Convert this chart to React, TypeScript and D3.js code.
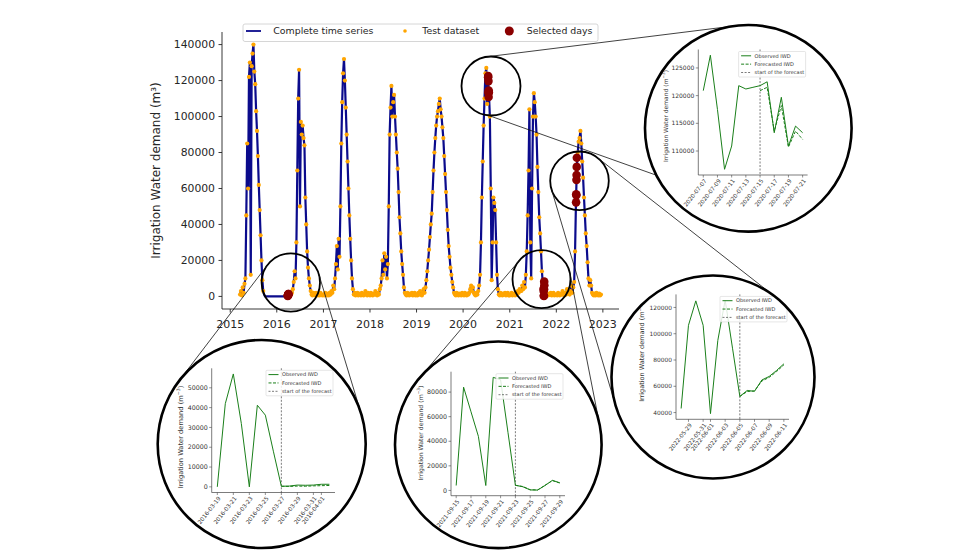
import React from "react";
import * as d3 from "d3";

const FONT = "'DejaVu Sans', Verdana, sans-serif";

// ---------- Main chart data: weekly irrigation water demand (thousand m³), index = week of year ----------
const iwd2015 = [null, null, null, null, null, null, null, null, null, null, null,
  1, 3, 0.5, 5, 2, 7, 10, 45, 85, 60,
  122, 130, 12, 128, 135, 140, 125, 118, 103, 92,
  78, 62, 48, 34, 20, 9, 3, 1, 0, 0,
  0, 0, 0, 0, 0, 0, 0, 0, 0, 0, 0];
const iwd2016 = [0, 0, 0, 0, 0, 0, 0, 0, 0, 0,
  0, 0, 0, 0, 0, 0.5, 1, 2, 4, 8,
  14, 10, 30, 70, 110, 126, 50, 97, 90, 95,
  88, 84, 55, 40, 25, 16, 10, 6, 3, 1,
  0.5, 2, 1, 0.5, 2, 1, 0.5, 1.5, 0.5, 2,
  1, 0.5];
const iwd2017 = [1, 0.5, 2, 1, 0.5, 1.5, 0.5, 2, 1, 3,
  2, 6, 4, 10, 18, 28, 15, 32, 22, 50,
  85, 108, 124, 132, 120, 105, 90, 75, 60, 45,
  32, 20, 10, 4, 1, 2, 0.5, 1, 2, 0.5,
  1.5, 1, 0.5, 2, 1, 0.5, 1.5, 3, 1, 0.5,
  2, 1];
const iwd2018 = [0.5, 2, 1, 0.5, 1.5, 1, 3, 1, 0.5, 2,
  1, 4, 6, 10, 20, 12, 24, 15, 22, 10,
  18, 50, 90, 105, 117, 100, 108, 112, 100, 90,
  80, 71, 58, 44, 35, 25, 18, 12, 5, 2,
  1, 0.5, 2, 1, 0.5, 1.5, 1, 2, 0.5, 1,
  2, 0.5];
const iwd2019 = [1, 0.5, 2, 1, 3, 1, 0.5, 2, 4, 2,
  5, 9, 14, 20, 26, 33, 40, 46, 58, 70,
  80, 88, 95, 100, 103, 107, 110, 104, 100, 94,
  88, 78, 68, 58, 48, 37, 28, 22, 16, 12,
  8, 5, 2, 1, 0.5, 2, 1, 0.5, 1.5, 1,
  0.5, 2];
const iwd2020 = [1, 0.5, 2, 1, 0.5, 1.5, 1, 2, 4, 6,
  3, 5, 2, 1, 0.5, 2, 1, 3, 6, 12,
  30, 55, 75, 95, 110, 124, 127, 107, 122, 112,
  100, 60, 9, 30, 55, 52, 48, 30, 12, 4,
  1, 0.5, 2, 1, 0.5, 1.5, 1, 2, 0.5, 1,
  2, 0.5];
const iwd2021 = [0.5, 1, 2, 0.5, 1, 1.5, 0.5, 2, 1, 3,
  2, 4, 3, 3, 6, 4, 8, 5, 12, 25,
  45, 70, 104, 30, 10, 60, 100, 113, 108, 100,
  90, 72, 58, 44, 35, 25, 14, 7, 3, 1,
  0.5, 2, 1, 0.5, 1.5, 1, 2, 0.5, 1, 2,
  0.5, 1];
const iwd2022 = [1, 0.5, 2, 1, 0.5, 1.5, 1, 3, 1, 0.5,
  2, 1, 4, 2, 3, 1, 3, 6, 2, 5,
  8, 25, 52, 72, 80, 86, 88, 92, 85, 75,
  66, 55, 45, 35, 28, 19, 10, 6, 9, 6,
  2, 1, 0.5, 1.5, 0.5, 2, 1, 0.5, 1.5, 0.5,
  1, null];
const seriesYears = [2015, 2016, 2017, 2018, 2019, 2020, 2021, 2022];
const weeklyIWD = [iwd2015, iwd2016, iwd2017, iwd2018, iwd2019, iwd2020, iwd2021, iwd2022];
const testGap = ["2015-09-20", "2016-04-10"]; // period not in the test dataset
const mainYTicks = [0, 20000, 40000, 60000, 80000, 100000, 120000, 140000];
const mainXTickYears = [2015, 2016, 2017, 2018, 2019, 2020, 2021, 2022, 2023];
const legendLabels = ["Complete time series", "Test dataset", "Selected days"];

// ---------- Inset data (daily, m³) ----------
const forecastOffset = 8; // forecast starts 8 days after the first day shown
const insetLegendLabels = ["Observed IWD", "Forecasted IWD", "start of the forecast"];

const insetAStart = "2020-07-07";
const insetAObserved = [120900, 127300, 117500, 106700, 110900, 121800, 121200, 121500, 121800, 122500, 113300, 119700, 110900, 114500, 113300];
const insetAForecast = [120900, 121500, 113600, 118200, 110700, 113600, 112100];
const insetAXTicks = ["2020-07-07", "2020-07-09", "2020-07-11", "2020-07-13", "2020-07-15", "2020-07-17", "2020-07-19", "2020-07-21"];
const insetAYTicks = [110000, 115000, 120000, 125000];

const insetBStart = "2022-05-28";
const insetBObserved = [43100, 106400, 125000, 106400, 39200, 94900, 125600, 89000, 52300, 56800, 56200, 64800, 67500, 72000, 77100];
const insetBForecast = [52300, 56000, 56500, 64000, 66800, 71200, 76300];
const insetBXTicks = ["2022-05-29", "2022-05-31", "2022-06-01", "2022-06-03", "2022-06-05", "2022-06-07", "2022-06-09", "2022-06-11"];
const insetBYTicks = [40000, 60000, 80000, 100000, 120000];

const insetCStart = "2016-03-19";
const insetCObserved = [0, 42000, 57000, 32000, 0, 41200, 36200, 18000, 300, 400, 900, 800, 900, 1300, 1300];
const insetCForecast = [300, 200, 400, 300, 500, 600, 700];
const insetCXTicks = ["2016-03-19", "2016-03-21", "2016-03-23", "2016-03-25", "2016-03-27", "2016-03-29", "2016-03-31", "2016-04-01"];
const insetCYTicks = [0, 10000, 20000, 30000, 40000, 50000];

const insetDStart = "2021-09-15";
const insetDObserved = [4000, 84000, 64000, 44000, 4000, 92000, 90000, 47000, 4200, 3000, 400, 300, 4000, 8200, 6200];
const insetDForecast = [4200, 3200, 600, 400, 4200, 8000, 6000];
const insetDXTicks = ["2021-09-15", "2021-09-17", "2021-09-19", "2021-09-21", "2021-09-23", "2021-09-25", "2021-09-27", "2021-09-29"];
const insetDYTicks = [0, 20000, 40000, 60000, 80000];

// ---------- helpers ----------
const parse = d3.timeParse("%Y-%m-%d");
const fmt = d3.timeFormat("%Y-%m-%d");
const BLUE = "#0b0b8c";
const ORANGE = "#ffa500";
const RED = "#8b0000";
const GREEN = "#1a7f1a";
const TXT = "#262626";

type Pt = { date: Date; value: number };

const mainSeries: Pt[] = weeklyIWD.flatMap((vals, i) =>
  vals
    .map((v, w) => (v == null ? null : { date: d3.timeDay.offset(new Date(seriesYears[i], 0, 1), 7 * w), value: v * 1000 }))
    .filter((p) => p !== null) as Pt[]
);

const gap0 = parse(testGap[0])!, gap1 = parse(testGap[1])!;
const testPoints = mainSeries.filter((p) => p.date < gap0 || p.date > gap1);

const insets = [
  { key: "A", start: insetAStart, obs: insetAObserved, fc: insetAForecast, xTicks: insetAXTicks, yTicks: insetAYTicks,
    circle: { cx: 748.3, cy: 128.3, r: 103.3 }, ax: { l: 698.3, r: 807.6, t: 49.5, b: 175 },
    yLabelSize: 6, yLabelX: 667.5, yLabelCy: 116, yTickSize: 6 },
  { key: "B", start: insetBStart, obs: insetBObserved, fc: insetBForecast, xTicks: insetBXTicks, yTicks: insetBYTicks,
    circle: { cx: 713, cy: 377, r: 101.5 }, ax: { l: 676, r: 789, t: 294.4, b: 419.3 },
    yLabelSize: 6.5, yLabelX: 644.2, yLabelCy: 352, yTickSize: 5.9 },
  { key: "C", start: insetCStart, obs: insetCObserved, fc: insetCForecast, xTicks: insetCXTicks, yTicks: insetCYTicks,
    circle: { cx: 261.7, cy: 444, r: 104 }, ax: { l: 211.7, r: 335, t: 368.3, b: 492.5 },
    yLabelSize: 6.7, yLabelX: 182.5, yLabelCy: 437, yTickSize: 6.3 },
  { key: "D", start: insetDStart, obs: insetDObserved, fc: insetDForecast, xTicks: insetDXTicks, yTicks: insetDYTicks,
    circle: { cx: 498.3, cy: 444.8, r: 103.3 }, ax: { l: 451, r: 565, t: 371.7, b: 495.7 },
    yLabelSize: 6.2, yLabelX: 422.5, yLabelCy: 433, yTickSize: 6.3 },
];

const selectedPoints: Pt[] = insets.flatMap((c) =>
  c.obs.slice(forecastOffset).map((v, i) => ({ date: d3.timeDay.offset(parse(c.start)!, forecastOffset + i), value: v }))
);

const zoomCircles = [
  { cx: 290.8, cy: 282.5, r: 29.2 }, // 2016 -> C
  { cx: 491, cy: 86, r: 29.5 }, // 2020 -> A
  { cx: 579.5, cy: 180.8, r: 29.3 }, // 2022 -> B
  { cx: 541.5, cy: 279.2, r: 29 }, // 2021 -> D
];

type C = { cx: number; cy: number; r: number };
function tangents(a: C, b: C) {
  const dx = b.cx - a.cx, dy = b.cy - a.cy, d = Math.hypot(dx, dy);
  const base = Math.atan2(dy, dx), phi = Math.acos((b.r - a.r) / d);
  return [1, -1].map((s) => {
    const t = base + s * (Math.PI - phi);
    return { x1: a.cx + a.r * Math.cos(t), y1: a.cy + a.r * Math.sin(t), x2: b.cx + b.r * Math.cos(t), y2: b.cy + b.r * Math.sin(t) };
  });
}
function radial(a: C, b: C, angA: number, angB: number) {
  const ta = (angA * Math.PI) / 180, tb = (angB * Math.PI) / 180;
  return { x1: a.cx + a.r * Math.cos(ta), y1: a.cy + a.r * Math.sin(ta), x2: b.cx + b.r * Math.cos(tb), y2: b.cy + b.r * Math.sin(tb) };
}

const connectorLines = [
  ...tangents(zoomCircles[0], insets[2].circle),
  tangents(zoomCircles[1], insets[0].circle)[1],
  radial(zoomCircles[1], insets[0].circle, 95, 153),
  ...tangents(zoomCircles[2], insets[1].circle),
  ...tangents(zoomCircles[3], insets[3].circle),
];

// ---------- main chart ----------
const M = { left: 222, right: 619, top: 32, bottom: 309 };

function MainChart() {
  const [d0, d1] = d3.extent(mainSeries, (d) => d.date) as [Date, Date];
  const span = +d1 - +d0;
  const x = d3.scaleTime().domain([new Date(+d0 - 0.05 * span), new Date(+d1 + 0.05 * span)]).range([M.left, M.right]);
  const vmax = d3.max(mainSeries, (d) => d.value)!;
  const y = d3.scaleLinear().domain([-0.05 * vmax, 1.05 * vmax]).range([M.bottom, M.top]);
  const line = d3.line<Pt>().x((d) => x(d.date)).y((d) => y(d.value));

  return (
    <g fontFamily={FONT}>
      <path d={line(mainSeries) || ""} fill="none" stroke={BLUE} strokeWidth={2.2} strokeLinejoin="round" />
      {testPoints.map((p, i) => (
        <circle key={"t" + i} cx={x(p.date)} cy={y(p.value)} r={2.1} fill={ORANGE} />
      ))}
      {selectedPoints.map((p, i) => (
        <circle key={"s" + i} cx={x(p.date)} cy={y(p.value)} r={4.3} fill={RED} />
      ))}
      {/* spines */}
      <line x1={M.left} x2={M.left} y1={M.top} y2={M.bottom} stroke="#222" strokeWidth={0.9} />
      <line x1={M.left} x2={M.right} y1={M.bottom} y2={M.bottom} stroke="#222" strokeWidth={0.9} />
      {mainYTicks.map((t) => (
        <g key={"yt" + t}>
          <line x1={M.left - 3.5} x2={M.left} y1={y(t)} y2={y(t)} stroke="#222" strokeWidth={0.9} />
          <text x={M.left - 7} y={y(t)} dy="0.36em" textAnchor="end" fontSize={10.8} fill={TXT}>{t}</text>
        </g>
      ))}
      {mainXTickYears.map((yr) => {
        const xx = x(new Date(yr, 0, 1));
        return (
          <g key={"xt" + yr}>
            <line x1={xx} x2={xx} y1={M.bottom} y2={M.bottom + 3.5} stroke="#222" strokeWidth={0.9} />
            <text x={xx} y={327.5} textAnchor="middle" fontSize={11} fill={TXT}>{yr}</text>
          </g>
        );
      })}
      <text transform={`translate(159.5,${(M.top + M.bottom) / 2}) rotate(-90)`} textAnchor="middle" fontSize={12} fill={TXT}>
        Irrigation Water demand (m³)
      </text>
      {/* legend */}
      <rect x={243} y={24} width={355} height={17.5} rx={2} fill="white" fillOpacity={0.85} stroke="#cccccc" strokeWidth={0.8} />
      <line x1={246} x2={261} y1={31} y2={31} stroke={BLUE} strokeWidth={1.8} />
      <text x={273.3} y={34.4} fontSize={9.4} fill={TXT}>{legendLabels[0]}</text>
      <circle cx={405} cy={31} r={1.8} fill={ORANGE} />
      <text x={422.3} y={34.4} fontSize={9.4} fill={TXT}>{legendLabels[1]}</text>
      <circle cx={509.3} cy={31} r={4.5} fill={RED} />
      <text x={526.7} y={34.4} fontSize={9.4} fill={TXT}>{legendLabels[2]}</text>
    </g>
  );
}

// ---------- insets ----------
function Inset({ cfg }: { cfg: (typeof insets)[number] }) {
  const dates = cfg.obs.map((_, i) => d3.timeDay.offset(parse(cfg.start)!, i));
  const t0 = +dates[0], t1 = +dates[dates.length - 1], span = t1 - t0;
  const x = d3.scaleTime().domain([new Date(t0 - 0.05 * span), new Date(t1 + 0.05 * span)]).range([cfg.ax.l, cfg.ax.r]);
  const all = cfg.obs.concat(cfg.fc);
  const lo = d3.min(all)!, hi = d3.max(all)!, pad = 0.05 * (hi - lo);
  const y = d3.scaleLinear().domain([lo - pad, hi + pad]).range([cfg.ax.b, cfg.ax.t]);
  const line = d3.line<[Date, number]>().x((d) => x(d[0])).y((d) => y(d[1]));
  const obsPath = line(dates.map((d, i) => [d, cfg.obs[i]] as [Date, number])) || "";
  const fcPath = line(cfg.fc.map((v, i) => [dates[forecastOffset + i], v] as [Date, number])) || "";
  const xs = x(dates[forecastOffset]);
  const { cx, cy, r } = cfg.circle;
  const clipId = "clip-" + cfg.key;
  const ax = cfg.ax;
  const lw = 67, lh = 25.5;
  const lx = ax.r - 2 - lw, ly = ax.t + 2;
  const fs = cfg.yLabelSize;
  return (
    <g fontFamily={FONT}>
      <defs>
        <clipPath id={clipId}>
          <circle cx={cx} cy={cy} r={r} />
        </clipPath>
      </defs>
      <circle cx={cx} cy={cy} r={r} fill="white" />
      <g clipPath={`url(#${clipId})`}>
        <line x1={ax.l} x2={ax.l} y1={ax.t} y2={ax.b} stroke="#444" strokeWidth={0.7} />
        <line x1={ax.l} x2={ax.r} y1={ax.b} y2={ax.b} stroke="#444" strokeWidth={0.7} />
        {cfg.yTicks.map((t) => (
          <g key={"y" + t}>
            <line x1={ax.l - 2.5} x2={ax.l} y1={y(t)} y2={y(t)} stroke="#444" strokeWidth={0.6} />
            <text x={ax.l - 4} y={y(t)} dy="0.35em" textAnchor="end" fontSize={cfg.yTickSize} fill="#333">{t}</text>
          </g>
        ))}
        {cfg.xTicks.map((s) => {
          const tx = x(parse(s)!);
          return (
            <g key={"x" + s}>
              <line x1={tx} x2={tx} y1={ax.b} y2={ax.b + 2.5} stroke="#444" strokeWidth={0.6} />
              <text transform={`translate(${tx + 0.5},${ax.b + 3.5}) rotate(-52)`} dy="0.7em" textAnchor="end" fontSize={5.7} fill="#333">
                {fmt(parse(s)!)}
              </text>
            </g>
          );
        })}
        <text transform={`translate(${cfg.yLabelX},${cfg.yLabelCy}) rotate(-90)`} textAnchor="middle" fontSize={fs} fill="#333">
          Irrigation Water demand (m
          <tspan dy={-fs * 0.35} fontSize={fs * 0.7}>−3</tspan>
          <tspan dy={fs * 0.35}>)</tspan>
        </text>
        <line x1={xs} x2={xs} y1={ax.t} y2={ax.b} stroke="#222" strokeWidth={0.6} strokeDasharray="2,1.5" />
        <path d={obsPath} fill="none" stroke={GREEN} strokeWidth={1} strokeLinejoin="round" />
        <path d={fcPath} fill="none" stroke={GREEN} strokeWidth={1} strokeDasharray="3,1.5" />
        {/* legend */}
        <rect x={lx} y={ly} width={lw} height={lh} rx={1} fill="white" fillOpacity={0.85} stroke="#cccccc" strokeWidth={0.5} />
        {insetLegendLabels.map((lab, i) => {
          const yy = ly + 4.3 + i * 8.35;
          return (
            <g key={lab}>
              <line x1={lx + 2.5} x2={lx + 12.5} y1={yy} y2={yy}
                stroke={i === 2 ? "#222" : GREEN} strokeWidth={i === 2 ? 0.6 : 1}
                strokeDasharray={i === 0 ? undefined : i === 1 ? "3,1.5" : "2,1.5"} />
              <text x={lx + 16} y={yy} dy="0.35em" fontSize={5} fill="#333">{lab}</text>
            </g>
          );
        })}
      </g>
      <circle cx={cx} cy={cy} r={r} fill="none" stroke="black" strokeWidth={2.6} />
    </g>
  );
}

export default function App() {
  return (
    <svg width={980} height={560} viewBox="0 0 980 560" style={{ position: "absolute", left: 0, top: 0, background: "white" }}>
      <rect x={0} y={0} width={980} height={560} fill="white" />
      <MainChart />
      {zoomCircles.map((c, i) => (
        <circle key={"zc" + i} cx={c.cx} cy={c.cy} r={c.r} fill="none" stroke="black" strokeWidth={1.8} />
      ))}
      {connectorLines.map((l, i) => (
        <line key={"cl" + i} x1={l.x1} y1={l.y1} x2={l.x2} y2={l.y2} stroke="#111" strokeWidth={0.8} />
      ))}
      {insets.map((c) => (
        <Inset key={c.key} cfg={c} />
      ))}
    </svg>
  );
}
